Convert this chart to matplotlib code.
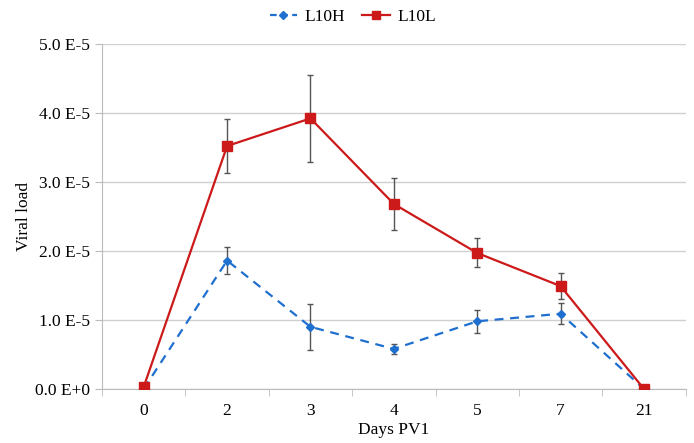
import matplotlib
matplotlib.use("Agg")
import matplotlib.pyplot as plt
from matplotlib.lines import Line2D
import numpy as np

plt.rcParams['font.family'] = ['Liberation Serif', 'DejaVu Serif']

days = ["0", "2", "3", "4", "5", "7", "21"]
l10h = [0.0, 1.86e-5, 0.90e-5, 0.58e-5, 0.98e-5, 1.09e-5, 0.0]
l10h_err = [0.0, 0.20e-5, 0.33e-5, 0.07e-5, 0.17e-5, 0.15e-5, 0.0]
l10l = [0.03e-5, 3.52e-5, 3.92e-5, 2.68e-5, 1.97e-5, 1.49e-5, 0.0]
l10l_err = [0.0, 0.39e-5, 0.63e-5, 0.37e-5, 0.21e-5, 0.19e-5, 0.0]
yticks = [0, 1e-5, 2e-5, 3e-5, 4e-5, 5e-5]
ytick_labels = ["0.0 E+0", "1.0 E-5", "2.0 E-5", "3.0 E-5", "4.0 E-5", "5.0 E-5"]

fig = plt.figure(figsize=(6.94, 4.43), dpi=100)
ax = fig.add_axes([0.147, 0.122, 0.841, 0.779])
x = np.arange(len(days))

red = "#CC1A1A"
blue = "#1F6FCF"
ecol = "#555555"

ax.errorbar(x, l10h, yerr=l10h_err, color=blue, ls=(0, (4, 3)), lw=1.6,
            marker="D", ms=4.5, ecolor=ecol, elinewidth=1, capsize=2.5, capthick=1,
            zorder=3)
ax.errorbar(x, l10l, yerr=l10l_err, color=red, ls="-", lw=1.6,
            marker="s", ms=6.5, ecolor=ecol, elinewidth=1, capsize=2.5, capthick=1,
            zorder=4)

ax.set_xlim(-0.5, len(days) - 0.5)
ax.set_ylim(0, 5e-5)
ax.set_yticks(yticks)
ax.set_yticklabels(ytick_labels)
ax.set_xticks(x)
ax.set_xticklabels(days)
ax.set_xticks(np.arange(-0.5, len(days)), minor=True)
ax.tick_params(axis='x', which='major', length=0, labelsize=12.5, pad=10)
ax.tick_params(axis='x', which='minor', length=5, color="#BBBBBB", direction="out")
ax.tick_params(axis='y', which='major', length=5, color="#BBBBBB", labelsize=12.5)
ax.yaxis.grid(True, color="#D0D0D0", lw=1)
ax.set_axisbelow(True)
for s in ["top", "right"]:
    ax.spines[s].set_visible(False)
for s in ["left", "bottom"]:
    ax.spines[s].set_color("#BBBBBB")

ax.set_ylabel("Viral load", fontsize=12.5, labelpad=2)
ax.set_xlabel("Days PV1", fontsize=12.5, labelpad=2)

handles = [
    Line2D([], [], color=blue, ls=(0, (3, 2)), lw=1.6, marker="D", ms=4),
    Line2D([], [], color=red, ls="-", lw=1.6, marker="s", ms=5.5),
]
fig.legend(handles, ["L10H", "L10L"], loc="upper center", bbox_to_anchor=(0.508, 1.015), ncol=2,
           frameon=False, fontsize=12.5, handlelength=1.6, columnspacing=1.0, handletextpad=0.4)

fig.savefig("out.png", dpi=100)
